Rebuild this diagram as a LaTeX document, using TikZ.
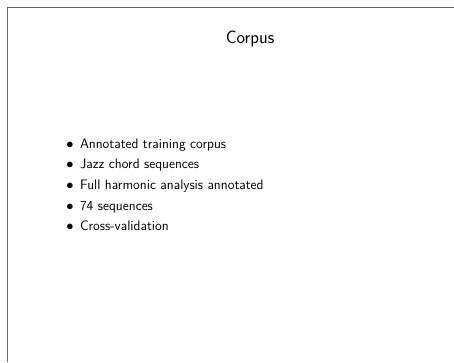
\documentclass[tikz,border=0pt]{standalone}
\begin{document}
\begin{tikzpicture}[x=1pt,y=-1pt,
  every node/.style={inner sep=0pt,outer sep=0pt},
  slidetitle/.style={anchor=base,font=\sffamily\fontsize{18}{22}\selectfont},
  itemtext/.style={anchor=base west,font=\sffamily\fontsize{13.75}{16}\selectfont},
  itemmark/.style={anchor=base,font=\fontsize{13.75}{16}\selectfont},
  edge/.style={draw=black!60,line width=1.5pt}]
  \useasboundingbox (0,0) rectangle (454,362);
  % slide edge on the left and top
  \coordinate (bl) at (7.5,362);
  \coordinate (tl) at (7.5,7.5);
  \coordinate (tr) at (454,7.5);
  \draw[edge] (bl) -- (tl) -- (tr);
  % title
  \node[slidetitle] (title) at (250,43) {Corpus};
  % bullet list
  \foreach \i/\y/\t in {1/148/Annotated training corpus,
                         2/168.7/Jazz chord sequences,
                         3/189.4/Full harmonic analysis annotated,
                         4/210/74 sequences,
                         5/230.7/Cross-validation}{
    \node[itemmark] (m\i) at (70,\y) {$\bullet$};
    \node[itemtext] (t\i) at (80,\y) {\t};
  }
\end{tikzpicture}
\end{document}
